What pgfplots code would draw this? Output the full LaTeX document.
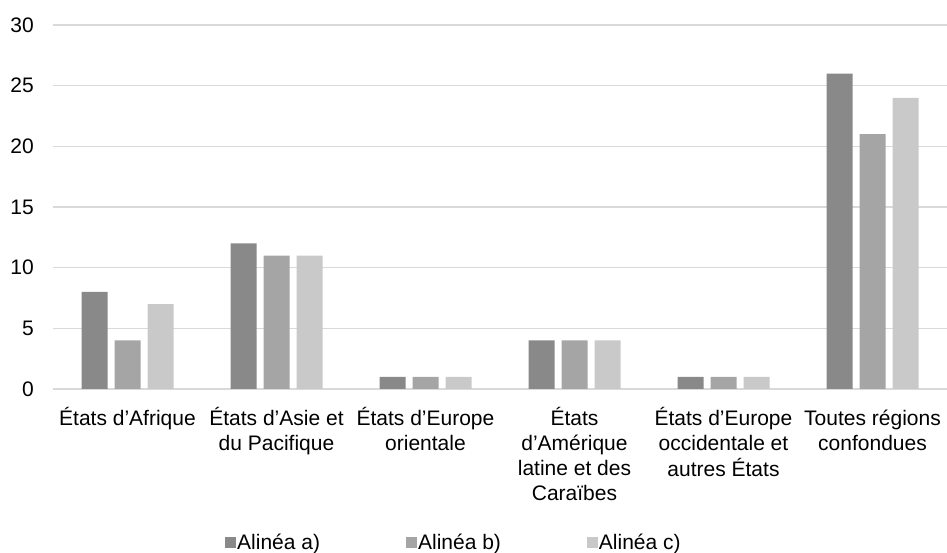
\documentclass[border=0pt]{standalone}
\usepackage{fontspec}
\setmainfont{Liberation Sans}
\usepackage{pgfplots}
\pgfplotsset{compat=1.18}

\definecolor{barA}{HTML}{898989}
\definecolor{barB}{HTML}{A5A5A5}
\definecolor{barC}{HTML}{C9C9C9}
\definecolor{gridgray}{HTML}{D9D9D9}

% category labels hang from the baseline of their first line
\newcommand{\lbl}[1]{\begin{tabular}[t]{@{}c@{}}#1\end{tabular}}

\begin{document}
\fontsize{21}{25}\selectfont
\begin{tikzpicture}
\useasboundingbox (0,0) rectangle (947pt,553pt);
\pgfplotsset{sq/.style={legend image code/.code={\fill[##1] (0pt,-5.5pt) rectangle (11pt,5.5pt);}}}
\begin{axis}[
  at={(53pt,164pt)}, anchor=south west,
  scale only axis, width=894pt, height=364pt,
  ybar=7pt, bar width=26pt,
  xmin=-0.5, xmax=5.5, ymin=0, ymax=30,
  ytick={0,5,...,30},
  xtick={0,1,2,3,4,5},
  xticklabels={{\lbl{États d’Afrique}},{\lbl{États d’Asie et\\du Pacifique}},{\lbl{États d’Europe\\orientale}},{\lbl{États\\d’Amérique\\latine et des\\Caraïbes}},{\lbl{États d’Europe\\occidentale et\\autres États}},{\lbl{Toutes régions\\confondues}}},
  xticklabel style={anchor=base, yshift=-32.7pt, inner sep=0pt,
    font=\fontsize{21}{25}\selectfont},
  yticklabel style={anchor=east, inner sep=0pt, xshift=-19pt},
  /pgf/number format/assume math mode=true,
  ymajorgrids, major grid style={gridgray, line width=1.2pt},
  axis line style={draw=none}, tick style={draw=none},
  legend style={draw=none, fill=none, at={(0.1924,-0.423)}, anchor=west,
    legend columns=3, inner sep=0pt,
    nodes={inner sep=1pt},
    /tikz/every even column/.append style={column sep=85pt}},
  legend cell align=left,
]
\addplot[fill=barA, draw=none, sq] coordinates {(0,8) (1,12) (2,1) (3,4) (4,1) (5,26)};
\addplot[fill=barB, draw=none, sq] coordinates {(0,4) (1,11) (2,1) (3,4) (4,1) (5,21)};
\addplot[fill=barC, draw=none, sq] coordinates {(0,7) (1,11) (2,1) (3,4) (4,1) (5,24)};
\legend{Alinéa a),Alinéa b),Alinéa c)}
\end{axis}
\end{tikzpicture}
\end{document}
